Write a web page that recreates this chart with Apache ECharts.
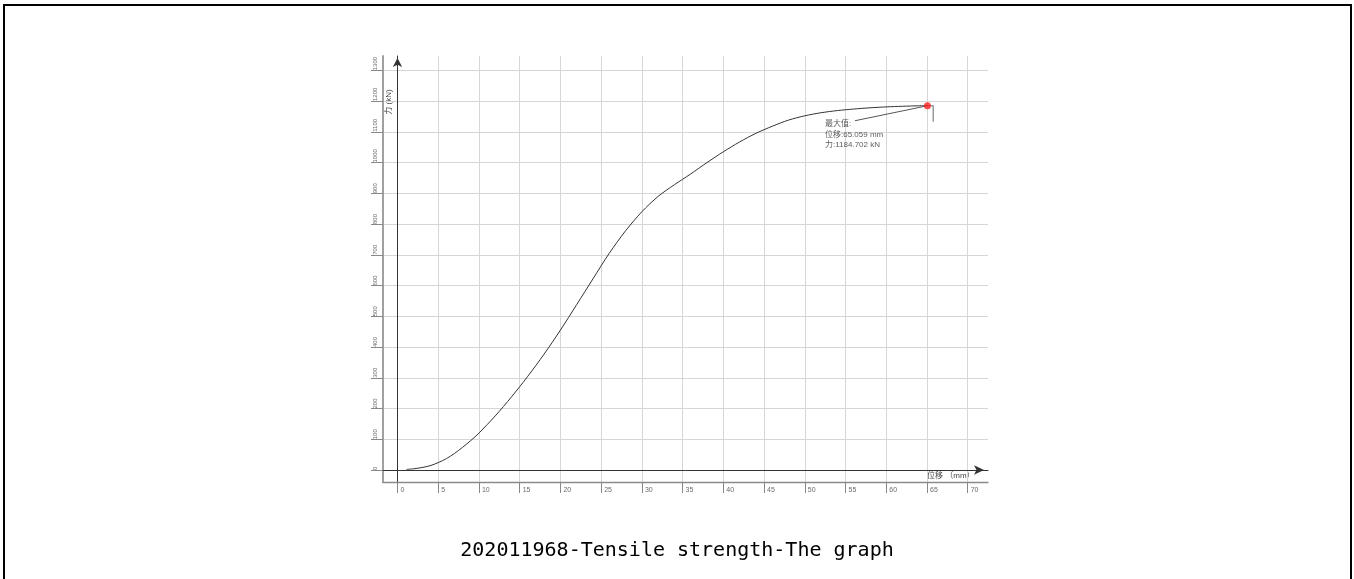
<!DOCTYPE html>
<html>

<head>
    <meta charset="utf-8">
    <title>Tensile strength</title>
    <script src="https://cdn.jsdelivr.net/npm/echarts@6/dist/echarts.min.js"></script>
    <style>
        body { margin: 0; background: #fff; }
        #frame { position: absolute; left: 3px; top: 4px; width: 1345px; height: 700px; border: 2px solid #000; }
        #main { position: absolute; left: 0; top: 0; width: 1354px; height: 579px; }
    </style>
</head>

<body>
    <div id="frame"></div>
    <div id="main"></div>
    <script type="text/javascript">
        // 位移 (mm) / 力 (kN)
        var displacement = [1.1, 2, 3, 4, 5, 6, 7, 8, 9, 10, 12, 14, 16, 18, 20, 22, 24, 26, 28, 30,
            32, 34, 36, 38, 40, 42, 44, 46, 48, 50, 52, 54, 56, 58, 60, 62, 64, 65.059];
        var force = [2, 4, 8, 14, 24, 37, 54, 74, 96, 120, 176, 238, 305, 377, 455, 538, 622, 705, 778, 840,
            890, 928, 963, 1000, 1035, 1067, 1095, 1118, 1138, 1152, 1162, 1169, 1174, 1178, 1181, 1183, 1184.5, 1184.702];
        // 断裂后的尾段
        var tailDisp = [65.059, 65.77, 65.77];
        var tailForce = [1184.702, 1184.702, 1133];
        // 最大值
        var maxPoint = [65.059, 1184.702];
        var maxText = ['最大值:', '位移:65.059 mm', '力:1184.702 kN'];
        var xTicks = [0, 5, 10, 15, 20, 25, 30, 35, 40, 45, 50, 55, 60, 65, 70];
        var yTicks = [0, 100, 200, 300, 400, 500, 600, 700, 800, 900, 1000, 1100, 1200, 1300];

        var xMin = -1.78, xMax = 72.49;
        var yMin = -39, yMax = 1346.5;

        var curve = displacement.map(function (d, i) { return [d, force[i]]; });
        var tail = tailDisp.map(function (d, i) { return [d, tailForce[i]]; });

        var myChart = echarts.init(document.getElementById('main'));

        var option = {
            animation: false,
            title: {
                text: '202011968-Tensile strength-The graph',
                left: 'center',
                top: 536,
                textStyle: { fontFamily: 'DejaVu Sans Mono', fontSize: 20, fontWeight: 'normal', color: '#000' }
            },
            grid: { left: 383, top: 56, right: 366, bottom: 97 },
            xAxis: [
                {
                    type: 'value', min: xMin, max: xMax,
                    axisLine: { onZero: false, lineStyle: { color: '#8a8a8a', width: 1.3 } },
                    axisTick: { customValues: xTicks, length: 11, lineStyle: { color: '#888' } },
                    axisLabel: {
                        customValues: xTicks, align: 'left', margin: 5, padding: [0, 0, 0, 3],
                        fontSize: 7, color: '#6a6a6a', fontFamily: 'Liberation Sans',
                        formatter: function (v) { return String(v); }
                    },
                    splitLine: { show: true, lineStyle: { color: '#d6d6d6', width: 1 } }
                },
                {
                    type: 'value', min: xMin, max: xMax,
                    axisLine: {
                        onZero: true, onZeroAxisIndex: 0,
                        symbol: ['none', 'arrow'], symbolSize: [7, 10], symbolOffset: [0, -4],
                        lineStyle: { color: '#333', width: 1 }
                    },
                    axisTick: { show: false }, axisLabel: { show: false }, splitLine: { show: false }
                }
            ],
            yAxis: [
                {
                    type: 'value', min: yMin, max: yMax,
                    axisLine: { onZero: false, lineStyle: { color: '#a0a0a0', width: 2 } },
                    axisTick: { customValues: yTicks, length: 12, lineStyle: { color: '#888' } },
                    axisLabel: {
                        customValues: yTicks, rotate: 90, align: 'left', verticalAlign: 'bottom', margin: 5,
                        fontSize: 6, color: '#6a6a6a', fontFamily: 'Liberation Sans',
                        formatter: function (v) { return String(v); }
                    },
                    splitLine: { show: true, lineStyle: { color: '#d6d6d6', width: 1 } }
                },
                {
                    type: 'value', min: yMin, max: yMax,
                    axisLine: {
                        onZero: true, onZeroAxisIndex: 0,
                        symbol: ['none', 'arrow'], symbolSize: [7, 9], symbolOffset: [0, -2],
                        lineStyle: { color: '#333', width: 1 }
                    },
                    axisTick: { show: false }, axisLabel: { show: false }, splitLine: { show: false }
                }
            ],
            graphic: [
                {
                    type: 'text', x: 389, y: 102, rotation: Math.PI / 2,
                    style: { text: '力 (kN)', fontSize: 8, fill: '#444', align: 'center', verticalAlign: 'middle',
                        fontFamily: 'Liberation Sans, Noto Sans CJK SC' }
                },
                {
                    type: 'text', x: 927, y: 476,
                    style: { text: '位移 （mm）', fontSize: 8, fill: '#444', align: 'left', verticalAlign: 'middle',
                        fontFamily: 'Liberation Sans, Noto Sans CJK SC' }
                }
            ],
            series: [
                {
                    name: '力',
                    type: 'line',
                    data: curve,
                    showSymbol: false,
                    smooth: 0.3,
                    lineStyle: { color: '#333', width: 1 },
                    markLine: {
                        silent: true,
                        symbol: 'none',
                        label: { show: false },
                        lineStyle: { color: '#555', width: 1, type: 'solid' },
                        data: [[{ coord: [56.16, 1136] }, { coord: maxPoint }]]
                    }
                },
                {
                    name: '尾段',
                    type: 'line',
                    data: tail,
                    showSymbol: false,
                    lineStyle: { color: '#999', width: 1.5 }
                },
                {
                    name: '最大值',
                    type: 'scatter',
                    data: [maxPoint],
                    symbolSize: 7,
                    itemStyle: { color: '#ff2020' },
                    z: 5
                },
                {
                    name: '标注',
                    type: 'scatter',
                    data: [[52.48, 1141.6]],
                    symbolSize: 0,
                    label: {
                        show: true,
                        position: [0, 0],
                        align: 'left',
                        verticalAlign: 'top',
                        formatter: maxText.join('\n'),
                        fontSize: 8,
                        lineHeight: 10.5,
                        color: '#333',
                        fontFamily: 'Liberation Sans, Noto Sans CJK SC'
                    }
                }
            ]
        };

        myChart.setOption(option);
    </script>
</body>

</html>
